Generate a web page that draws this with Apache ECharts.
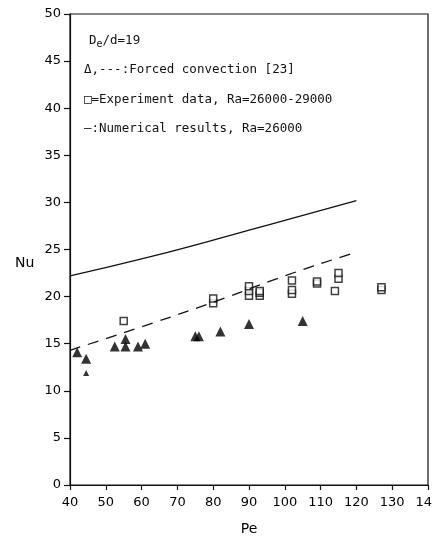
<!DOCTYPE html>
<html>
<head>
<meta charset="utf-8">
<script src="https://cdn.jsdelivr.net/npm/echarts@6/dist/echarts.min.js"></script>
<style>
html,body{margin:0;padding:0;background:#fff;}
#c{width:433px;height:538px;}
</style>
</head>
<body>
<div id="c"></div>
<script>
// Forced convection data (filled triangles)
var triPe = [42, 44.5, 52.5, 55.5, 55.5, 59, 61, 75, 76, 82, 90, 105];
var triNu = [14.1, 13.4, 14.7, 15.5, 14.7, 14.7, 15.0, 15.8, 15.8, 16.3, 17.1, 17.4];
// small triangle
var triSmallPe = [44.5];
var triSmallNu = [11.9];
// Experiment data (open squares)
var sqPe = [55, 80, 80, 90, 90, 90, 93, 93, 93, 102, 102, 102, 109, 109, 114, 115, 115, 127, 127];
var sqNu = [17.4, 19.3, 19.8, 20.1, 20.6, 21.1, 20.1, 20.4, 20.6, 20.3, 20.7, 21.7, 21.4, 21.6, 20.6, 21.9, 22.5, 20.7, 21.0];
// Forced convection correlation (dashed)
var forcedPe = [40, 60, 80, 100, 119];
var forcedNu = [14.3, 16.8, 19.4, 22.2, 24.6];
// Numerical results (solid)
var numPe = [40, 60, 80, 100, 120];
var numNu = [22.2, 24.0, 26.0, 28.1, 30.2];
// Axes
var xTicks = [40, 50, 60, 70, 80, 90, 100, 110, 120, 130, 140];
var yTicks = [0, 5, 10, 15, 20, 25, 30, 35, 40, 45, 50];

function pairs(a, b) { return a.map(function (v, i) { return [v, b[i]]; }); }

var chart = echarts.init(document.getElementById('c'), null, {renderer: 'canvas'});
var axisFont = {color: '#000', fontFamily: 'DejaVu Sans', fontSize: 13};
var noteFont = 'DejaVu Sans Mono';
chart.setOption({
  animation: false,
  backgroundColor: '#fff',
  grid: {left: 70, right: 5, top: 14, bottom: 53, containLabel: false, outerBoundsMode: 'none',
    show: true, borderColor: '#111', borderWidth: 1.2, backgroundColor: 'transparent'},
  xAxis: {
    type: 'value', min: xTicks[0], max: xTicks[xTicks.length - 1], interval: 10,
    name: 'Pe', nameLocation: 'middle', nameGap: 37,
    nameTextStyle: {color: '#000', fontFamily: 'DejaVu Sans', fontSize: 14},
    axisLine: {lineStyle: {color: '#111', width: 1.2}},
    axisTick: {length: 5, lineStyle: {color: '#111', width: 1.2}},
    axisLabel: Object.assign({margin: 11}, axisFont),
    splitLine: {show: false}
  },
  yAxis: {
    type: 'value', min: yTicks[0], max: yTicks[yTicks.length - 1], interval: 5,
    axisLine: {lineStyle: {color: '#111', width: 1.2}},
    axisTick: {length: 6, lineStyle: {color: '#111', width: 1.2}},
    axisLabel: Object.assign({margin: 9}, axisFont),
    splitLine: {show: false}
  },
  graphic: [
    {type: 'text', left: 89, top: 33, style: {
      text: '{a|D}{b|e}{a|/d=19}',
      rich: {
        a: {fontFamily: noteFont, fontSize: 12.5, fill: '#111', lineHeight: 14},
        b: {fontFamily: noteFont, fontSize: 10, fill: '#111', padding: [6, 0, 0, 0], lineHeight: 14}
      }
    }},
    {type: 'text', left: 84, top: 63, style: {text: '\u0394,---:Forced convection [23]', font: '12.5px "DejaVu Sans Mono"', fill: '#111'}},
    {type: 'text', left: 84, top: 93, style: {text: '\u25A1=Experiment data, Ra=26000-29000', font: '12.5px "DejaVu Sans Mono"', fill: '#111'}},
    {type: 'text', left: 84, top: 122, style: {text: '\u2014:Numerical results, Ra=26000', font: '12.5px "DejaVu Sans Mono"', fill: '#111'}},
    {type: 'text', left: 15, top: 256, style: {text: 'Nu', font: '14px "DejaVu Sans"', fill: '#000'}}
  ],
  series: [
    {type: 'line', data: pairs(numPe, numNu), showSymbol: false, smooth: true,
      lineStyle: {color: '#111', width: 1.3}},
    {type: 'line', data: pairs(forcedPe, forcedNu), showSymbol: false, smooth: true,
      lineStyle: {color: '#111', width: 1.3, type: [11, 8]}},
    {type: 'scatter', data: pairs(triPe, triNu), symbol: 'triangle', symbolSize: 10,
      itemStyle: {color: '#000'}},
    {type: 'scatter', data: pairs(triSmallPe, triSmallNu), symbol: 'triangle', symbolSize: 6,
      itemStyle: {color: '#000'}},
    {type: 'scatter', data: pairs(sqPe, sqNu), symbol: 'rect', symbolSize: 7,
      itemStyle: {color: '#fff', borderColor: '#111', borderWidth: 1.5}}
  ]
});
</script>
</body>
</html>
